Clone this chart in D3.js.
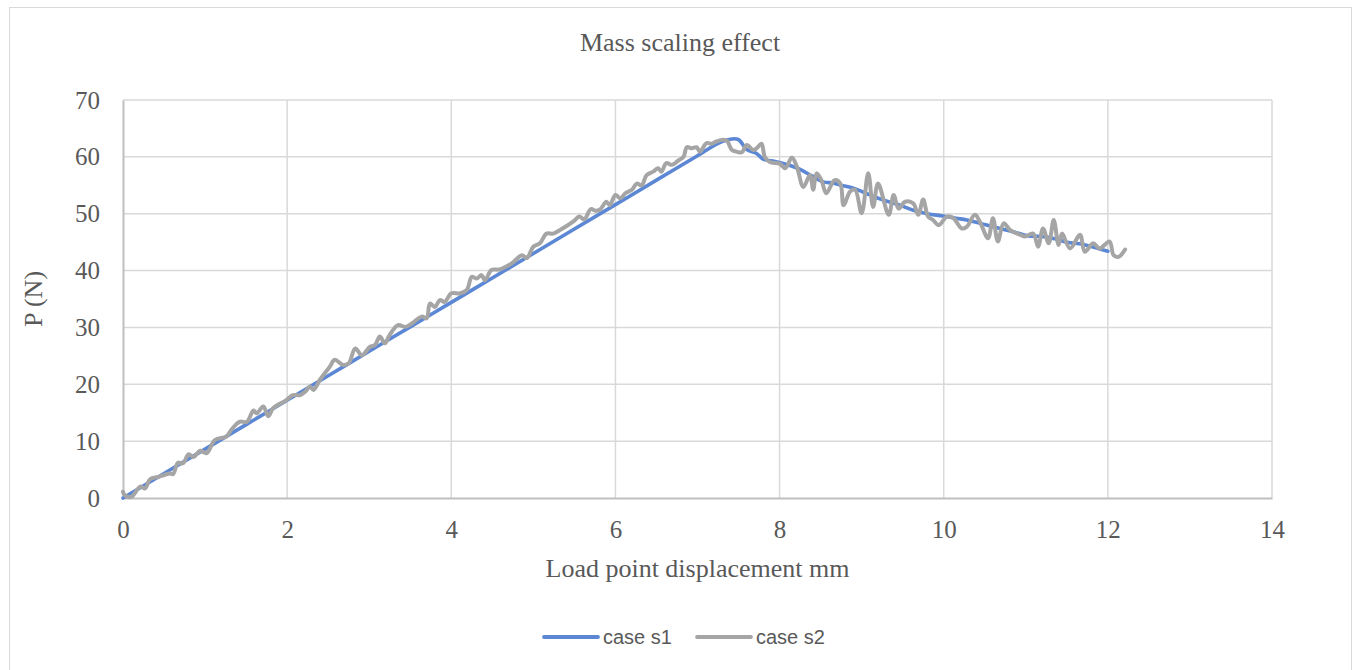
<!DOCTYPE html>
<html>
<head>
<meta charset="utf-8">
<script src="https://cdn.jsdelivr.net/npm/d3@7"></script>
<style>
  html, body { margin: 0; padding: 0; background: #fff; }
  svg { display: block; }
</style>
</head>
<body>
<svg id="chart" width="1356" height="670"></svg>
<script>
const title = "Mass scaling effect";
const xTitle = "Load point displacement mm";
const yTitle = "P (N)";
const seriesNames = ["case s1", "case s2"];
const xTicks = [0, 2, 4, 6, 8, 10, 12, 14];
const yTicks = [0, 10, 20, 30, 40, 50, 60, 70];

const s1X = [0, 0.5, 1, 1.5, 2, 2.5, 3, 3.5, 4, 4.5, 5, 5.5, 6, 6.5, 7, 7.3, 7.49, 7.6, 7.72, 7.8, 7.9, 8.0, 8.1, 8.25, 8.4, 8.53, 8.65, 8.75, 8.9, 9.05, 9.26, 9.45, 9.63, 9.8, 9.99, 10.15, 10.28, 10.45, 10.6, 10.8, 11.03, 11.2, 11.35, 11.5, 11.7, 11.9, 12.0];
const s1Y = [0, 4.3, 8.6, 12.9, 17.2, 21.5, 25.8, 30.1, 34.4, 38.7, 43.0, 47.3, 51.6, 55.9, 60.2, 62.7, 63.1, 61.3, 60.6, 59.6, 59.3, 59.0, 58.6, 57.8, 56.6, 55.6, 55.4, 55.0, 54.5, 53.6, 52.4, 51.6, 50.6, 50.0, 49.6, 49.2, 48.9, 48.3, 47.7, 47.0, 46.1, 46.0, 45.6, 45.0, 44.6, 43.8, 43.4];

const s2X = [0.0, 0.02, 0.1, 0.21, 0.27, 0.33, 0.43, 0.57, 0.61, 0.67, 0.73, 0.80, 0.86, 0.94, 1.02, 1.12, 1.26, 1.32, 1.42, 1.51, 1.59, 1.63, 1.71, 1.77, 1.83, 1.99, 2.07, 2.16, 2.22, 2.28, 2.32, 2.40, 2.52, 2.58, 2.68, 2.75, 2.83, 2.91, 3.01, 3.07, 3.13, 3.19, 3.25, 3.35, 3.44, 3.52, 3.64, 3.70, 3.74, 3.80, 3.86, 3.92, 4.00, 4.11, 4.19, 4.25, 4.31, 4.37, 4.41, 4.49, 4.59, 4.74, 4.86, 4.92, 5.0, 5.08, 5.16, 5.24, 5.32, 5.40, 5.50, 5.56, 5.62, 5.70, 5.76, 5.81, 5.89, 5.93, 6.0, 6.06, 6.12, 6.20, 6.26, 6.32, 6.38, 6.46, 6.52, 6.56, 6.62, 6.69, 6.77, 6.83, 6.87, 6.93, 6.99, 7.03, 7.11, 7.17, 7.23, 7.31, 7.36, 7.42, 7.48, 7.54, 7.60, 7.68, 7.72, 7.78, 7.82, 7.88, 8.0, 8.07, 8.15, 8.21, 8.29, 8.37, 8.41, 8.45, 8.51, 8.57, 8.67, 8.74, 8.78, 8.86, 8.92, 9.0, 9.08, 9.14, 9.20, 9.33, 9.39, 9.45, 9.53, 9.63, 9.69, 9.75, 9.81, 9.87, 9.94, 10.04, 10.12, 10.22, 10.28, 10.38, 10.44, 10.54, 10.60, 10.66, 10.73, 10.81, 10.93, 10.99, 11.09, 11.15, 11.21, 11.28, 11.34, 11.40, 11.44, 11.54, 11.66, 11.72, 11.82, 11.90, 12.02, 12.07, 12.13, 12.21];
const s2Y = [1.1, 0.5, 0.2, 2.0, 1.7, 3.3, 3.7, 4.3, 4.2, 6.2, 6.1, 7.7, 7.2, 8.3, 7.9, 10.2, 10.8, 12.0, 13.4, 13.4, 15.4, 14.9, 16.1, 14.4, 15.8, 17.2, 18.1, 18.1, 18.7, 19.6, 19.0, 20.8, 23.1, 24.3, 23.4, 23.7, 26.3, 25.1, 26.6, 26.9, 28.4, 27.2, 28.7, 30.4, 30.1, 30.7, 31.9, 31.6, 34.2, 33.6, 34.8, 34.5, 36.0, 36.0, 36.6, 38.9, 38.6, 39.2, 38.3, 40.1, 40.2, 41.3, 42.7, 42.2, 44.2, 44.8, 46.5, 46.5, 47.1, 47.8, 48.8, 49.5, 49.0, 50.8, 50.5, 50.7, 52.1, 51.5, 53.3, 52.7, 53.6, 54.2, 55.3, 55.0, 56.8, 57.4, 58.0, 57.4, 58.9, 58.6, 59.4, 60.0, 61.7, 61.5, 61.7, 60.9, 62.4, 62.3, 62.7, 63.0, 62.8, 61.2, 60.9, 60.8, 62.1, 61.2, 61.5, 62.3, 60.0, 59.1, 58.8, 58.0, 59.9, 58.3, 54.7, 56.8, 54.2, 57.1, 55.9, 53.6, 55.9, 55.3, 51.5, 53.9, 54.2, 50.1, 57.1, 51.2, 55.3, 49.8, 53.3, 50.9, 52.1, 51.8, 49.8, 52.5, 49.5, 48.9, 48.0, 49.5, 49.2, 47.4, 47.7, 49.8, 48.6, 45.7, 49.2, 45.1, 48.3, 47.1, 46.3, 46.0, 46.5, 44.2, 47.4, 44.8, 48.9, 44.5, 46.5, 43.9, 46.3, 43.3, 44.8, 43.9, 45.1, 42.7, 42.4, 43.7];

const colors = ["#5b87d5", "#a5a5a5"];
const textColor = "#595959";
const serif = "'Liberation Serif', 'Times New Roman', serif";

const svg = d3.select("#chart");
const plot = { left: 123, right: 1272, top: 100, bottom: 498 };

// outer chart border
svg.append("rect")
  .attr("x", 9.5).attr("y", 7.5)
  .attr("width", 1342).attr("height", 670)
  .attr("fill", "#fff").attr("stroke", "#d9d9d9").attr("stroke-width", 1);

const x = d3.scaleLinear().domain([0, 14]).range([plot.left, plot.right]);
const y = d3.scaleLinear().domain([0, 70]).range([plot.bottom, plot.top]);

// gridlines
const grid = svg.append("g");
grid.selectAll("line.h").data(yTicks.filter(d => d > 0)).enter().append("line")
  .attr("x1", plot.left).attr("x2", plot.right)
  .attr("y1", d => y(d)).attr("y2", d => y(d))
  .attr("stroke", "#d9d9d9").attr("stroke-width", 1.5);
grid.selectAll("line.v").data(xTicks.filter(d => d > 0)).enter().append("line")
  .attr("y1", plot.top).attr("y2", plot.bottom)
  .attr("x1", d => x(d)).attr("x2", d => x(d))
  .attr("stroke", "#d9d9d9").attr("stroke-width", 1.5);

// axes
const xAxis = svg.append("g").attr("transform", `translate(0,${plot.bottom})`)
  .call(d3.axisBottom(x).tickValues(xTicks).tickSize(0).tickPadding(22).tickFormat(d3.format("d")));
xAxis.select(".domain").attr("stroke", "#bfbfbf").attr("stroke-width", 2);
xAxis.selectAll("text").attr("font-family", serif).attr("font-size", 25).attr("fill", textColor);

const yAxis = svg.append("g").attr("transform", `translate(${plot.left},0)`)
  .call(d3.axisLeft(y).tickValues(yTicks).tickSize(0).tickPadding(23).tickFormat(d3.format("d")));
yAxis.select(".domain").attr("stroke", "#bfbfbf").attr("stroke-width", 2);
yAxis.selectAll("text").attr("font-family", serif).attr("font-size", 25).attr("fill", textColor);

// lines
const line = d3.line().x(d => x(d[0])).y(d => y(d[1])).curve(d3.curveCatmullRom.alpha(0.5));
const s1 = s1X.map((v, i) => [v, s1Y[i]]);
const s2 = s2X.map((v, i) => [v, s2Y[i]]);
svg.append("path").datum(s1).attr("d", line).attr("fill", "none")
  .attr("stroke", colors[0]).attr("stroke-width", 3.6).attr("stroke-linejoin", "round").attr("stroke-linecap", "round");
svg.append("path").datum(s2).attr("d", line).attr("fill", "none")
  .attr("stroke", colors[1]).attr("stroke-width", 4).attr("stroke-linejoin", "round").attr("stroke-linecap", "round");

// titles
svg.append("text").attr("x", 680).attr("y", 51).attr("text-anchor", "middle")
  .attr("font-family", serif).attr("font-size", 26).attr("fill", textColor).text(title);
svg.append("text").attr("x", (plot.left + plot.right) / 2).attr("y", 577).attr("text-anchor", "middle")
  .attr("font-family", serif).attr("font-size", 26).attr("fill", textColor).text(xTitle);
svg.append("text").attr("transform", `translate(42,${(plot.top + plot.bottom) / 2}) rotate(-90)`).attr("text-anchor", "middle")
  .attr("font-family", serif).attr("font-size", 26).attr("fill", textColor).text(yTitle);

// legend
const legendX = [544, 697];
const lg = svg.append("g");
seriesNames.forEach((name, i) => {
  lg.append("line").attr("x1", legendX[i]).attr("x2", legendX[i] + 54).attr("y1", 637).attr("y2", 637)
    .attr("stroke", colors[i]).attr("stroke-width", 3.8).attr("stroke-linecap", "round");
  lg.append("text").attr("x", legendX[i] + 59).attr("y", 644)
    .attr("font-family", "'Liberation Sans', sans-serif").attr("font-size", 20).attr("fill", textColor).text(name);
});
</script>
</body>
</html>
